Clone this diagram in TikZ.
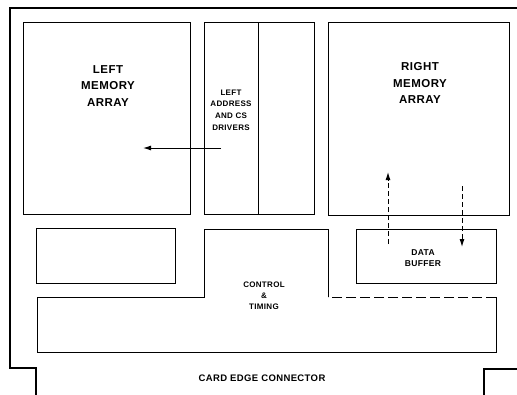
\documentclass[tikz,border=0pt]{standalone}
\usepackage{fontspec}
\setmainfont{Liberation Sans}
\newfontfamily\lblfont[LetterSpace=4]{Liberation Sans}
\usetikzlibrary{arrows.meta}
\tikzset{
  box/.style={draw, line width=1pt, rectangle, anchor=north west, inner sep=0pt},
  card/.style={line width=1.8pt},
  lbl/.style={font=\lblfont\bfseries, align=center, inner sep=0pt},
  bigl/.style={lbl, font=\lblfont\bfseries\fontsize{11.5}{16.5}\selectfont},
  smalll/.style={lbl, font=\lblfont\bfseries\fontsize{8}{11.8}\selectfont},
  midl/.style={lbl, font=\lblfont\bfseries\fontsize{8}{11}\selectfont},
  sig/.style={line width=1pt, -{Latex[length=8pt,width=5pt]}},
  dsig/.style={sig, dashed, dash pattern=on 5pt off 3pt},
}
\begin{document}
\begin{tikzpicture}[x=1pt,y=-1pt]
\useasboundingbox (0,0) rectangle (517,394);
% card outline
\draw[card] (36,395) -- (36,368) -- (10,368) -- (10,8) -- (518,8);
\draw[card] (484,395) -- (484,369) -- (518,369);
% boxes
\node[box, minimum width=167pt, minimum height=192pt] (lma) at (23,22) {};
\node[box, minimum width=110pt, minimum height=192pt] (drv) at (204,22) {};
\coordinate (drvTop) at (258,22);
\coordinate (drvBot) at (258,214);
\draw[line width=1pt] (drvTop) -- (drvBot);
\node[box, minimum width=181pt, minimum height=193pt] (rma) at (328,22) {};
\node[box, minimum width=139pt, minimum height=55pt] (aux) at (36,228) {};
\node[box, minimum width=140pt, minimum height=54pt] (buf) at (356,229) {};
% control & timing outline
\coordinate (c1) at (204,229);
\coordinate (c2) at (328,229);
\coordinate (c3) at (328,297);
\coordinate (c4) at (496,297);
\coordinate (c5) at (496,352);
\coordinate (c6) at (37,352);
\coordinate (c7) at (37,297);
\coordinate (c8) at (204,297);
\draw[line width=1pt] (c3) -- (c2) -- (c1) -- (c8) -- (c7) -- (c6) -- (c5) -- (c4);
\draw[line width=1pt, dash pattern=on 10pt off 4pt] (c4) -- (c3);
% labels
\node[bigl] (lmaT) at (108,86) {LEFT\\MEMORY\\ARRAY};
\node[smalll] (drvT) at (231,110) {LEFT\\ADDRESS\\AND CS\\DRIVERS};
\node[bigl] (rmaT) at (420,83) {RIGHT\\MEMORY\\ARRAY};
\node[midl, font=\lblfont\bfseries\fontsize{8.5}{11}\selectfont] (bufT) at (423,258) {DATA\\BUFFER};
\node[midl] (ctlT) at (264,296) {CONTROL\\\&\\TIMING};
\node[lbl, font=\lblfont\bfseries\fontsize{9.5}{10}\selectfont] (cec) at (262,378) {CARD EDGE CONNECTOR};
% arrows
\coordinate (a1s) at (221,148);
\coordinate (a1e) at (143,148);
\draw[sig] (a1s) -- (a1e);
\coordinate (a2s) at (388,244);
\coordinate (a2e) at (388,172);
\draw[dsig] (a2s) -- (a2e);
\coordinate (a3s) at (462,186);
\coordinate (a3e) at (462,247);
\draw[dsig] (a3s) -- (a3e);
\end{tikzpicture}
\end{document}
